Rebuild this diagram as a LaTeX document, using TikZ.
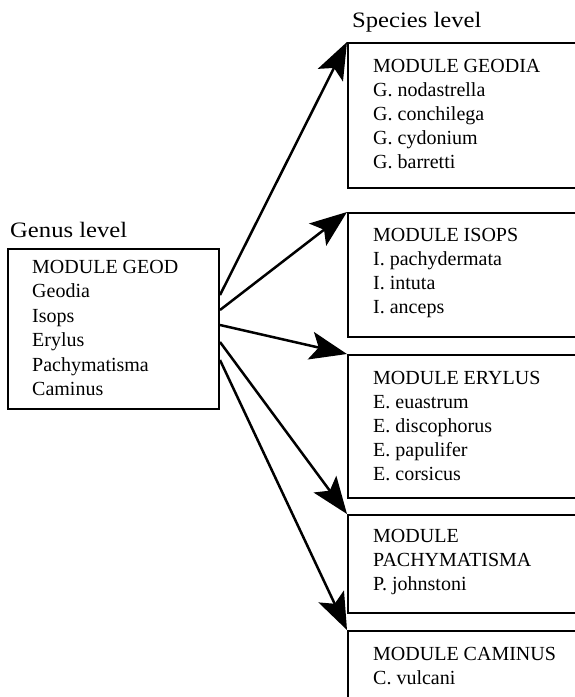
\documentclass[tikz,border=0pt]{standalone}
\usepackage{fontspec}
\setmainfont{Liberation Serif}
\newfontfamily\headfont[FakeStretch=1.12]{Liberation Serif}
\usetikzlibrary{arrows.meta,positioning}

\tikzset{
  modbox/.style={draw, line width=2pt, rectangle, inner sep=0pt, anchor=north west, minimum width=#1},
  modbox/.default=300pt,
  listtext/.style={inner sep=0pt, anchor=north west, align=left, font=\fontsize{20}{24}\selectfont},
  headtext/.style={inner sep=0pt, anchor=base west, font=\headfont\fontsize{22}{26}\selectfont},
  link/.style={line width=2.5pt, -{Stealth[length=37pt,width=28pt,inset=8pt]}}
}

\begin{document}
\begin{tikzpicture}[x=1pt,y=-1pt]
        \useasboundingbox (0,0) rectangle (575,697);
        \clip (0,0) rectangle (575,697);

        % Headings
        \node[headtext] (genuslevel) at (10,237) {Genus level};
        \node[headtext] (specieslevel) at (352,27) {Species level};

        % Genus box
        \node[modbox=211pt, minimum height=160pt] (geod) at (7,248) {};
        \node[listtext, font=\fontsize{20}{24.5}\selectfont] (geodtext) at ([shift={(25,12)}]geod.north west)
          {MODULE GEOD\\Geodia\\Isops\\Erylus\\Pachymatisma\\Caminus};

        % Species boxes
        \node[modbox, minimum height=145pt] (geodia) at (347,42) {};
        \node[modbox, minimum height=124pt] (isops) at (347,212) {};
        \node[modbox, minimum height=143pt] (erylus) at (347,354) {};
        \node[modbox, minimum height=98pt] (pachy) at (347,514) {};
        \node[modbox, minimum height=120pt] (caminus) at (347,630) {};

        \node[listtext] (geodiatext) at ([shift={(26,17)}]geodia.north west)
          {MODULE GEODIA\\G. nodastrella\\G. conchilega\\G. cydonium\\G. barretti};
        \node[listtext] (isopstext) at ([shift={(26,16)}]isops.north west)
          {MODULE ISOPS\\I. pachydermata\\I. intuta\\I. anceps};
        \node[listtext] (erylustext) at ([shift={(26,17)}]erylus.north west)
          {MODULE ERYLUS\\E. euastrum\\E. discophorus\\E. papulifer\\E. corsicus};
        \node[listtext] (pachytext) at ([shift={(26,15)}]pachy.north west)
          {MODULE\\PACHYMATISMA\\P. johnstoni};
        \node[listtext] (caminustext) at ([shift={(26,17)}]caminus.north west)
          {MODULE CAMINUS\\C. vulcani};

        % Arrows from genus to species
        \draw[link] ([yshift=-47pt]geod.north east) -- (geodia.north west);
        \draw[link] ([yshift=-62pt]geod.north east) -- (isops.north west);
        \draw[link] ([yshift=-77pt]geod.north east) -- (erylus.north west);
        \draw[link] ([yshift=-94pt]geod.north east) -- (pachy.north west);
        \draw[link] ([yshift=-112pt]geod.north east) -- (caminus.north west);
    \end{tikzpicture}
\end{document}
